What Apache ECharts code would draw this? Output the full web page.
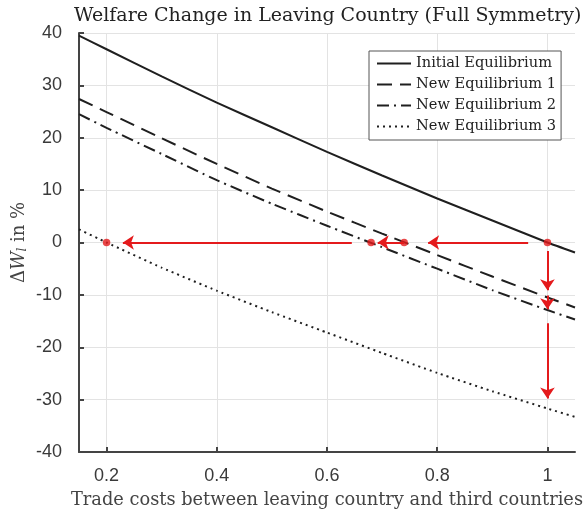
<!DOCTYPE html>
<html>
<head>
<meta charset="utf-8">
<script src="https://cdn.jsdelivr.net/npm/echarts@6/dist/echarts.min.js"></script>
<style>html,body{margin:0;padding:0;background:#fff}#c{width:585px;height:515px}</style>
</head>
<body>
<div id="c"></div>
<script>
const xValues = [0.15, 0.2, 0.3, 0.4, 0.5, 0.6, 0.7, 0.8, 0.9, 1.0, 1.05];
const initialEq = [39.5, 36.9, 31.7, 26.7, 22.0, 17.3, 12.8, 8.4, 4.2, 0.0, -1.9];
const newEq1 = [27.4, 24.9, 19.9, 15.0, 10.3, 5.9, 1.7, -2.4, -6.5, -10.5, -12.4];
const newEq2 = [24.5, 21.9, 16.9, 11.9, 7.4, 3.2, -0.9, -5.0, -9.1, -12.9, -14.7];
const newEq3 = [2.5, 0.0, -4.8, -9.2, -13.3, -17.2, -21.1, -24.9, -28.4, -31.7, -33.3];
const seriesNames = ['Initial Equilibrium', 'New Equilibrium 1', 'New Equilibrium 2', 'New Equilibrium 3'];
const xTicks = [0.2, 0.4, 0.6, 0.8, 1];
// red markers (x, y)
const pointX = [1.0, 0.74, 0.68, 0.2];
const pointY = [0, 0, 0, 0];
// red arrows: start x, start y, end x, end y
const arrowX0 = [0.965, 0.74, 0.645, 1.0, 1.0, 1.0];
const arrowY0 = [0, 0, 0, -1.6, -10.1, -15.4];
const arrowX1 = [0.7835, 0.692, 0.2296, 1.0, 1.0, 1.0];
const arrowY1 = [0, 0, 0, -9.1, -12.75, -29.8];

const serif = '"DejaVu Serif", serif';
const sans = '"Liberation Sans", Arial, sans-serif';
const dark = '#1f1f1f';
const red = '#e41a1c';

function pairs(ys) { return xValues.map((x, i) => [x, ys[i]]); }
const dashTypes = ['solid', [15, 8], [12, 5, 2, 5], [2, 4]];
const lineSeries = [initialEq, newEq1, newEq2, newEq3].map((ys, i) => ({
  name: seriesNames[i],
  type: 'line',
  data: pairs(ys),
  symbol: 'none',
  smooth: 0.15,
  lineStyle: { color: dark, width: 2, type: dashTypes[i] },
  itemStyle: { color: dark },
  z: 3
}));

const chart = echarts.init(document.getElementById('c'), null, { renderer: 'canvas' });
chart.setOption({
  animation: false,
  title: {
    text: 'Welfare Change in Leaving Country (Full Symmetry)',
    left: 69, top: 2,
    textStyle: { fontFamily: serif, fontWeight: 'normal', fontSize: 19, color: '#222' }
  },
  legend: {
    data: seriesNames,
    orient: 'vertical',
    left: 369, top: 51,
    itemWidth: 34, itemHeight: 14, itemGap: 6,
    padding: [5, 5, 6, 7],
    borderColor: '#555', borderWidth: 1, backgroundColor: '#fff',
    itemStyle: { opacity: 0 },
    textStyle: { fontFamily: serif, fontSize: 14.6, color: '#222' }
  },
  grid: { left: 79, right: 10, top: 33, bottom: 63, containLabel: false, outerBoundsMode: 'none' },
  xAxis: {
    type: 'value', min: 0.15, max: 1.05,
    name: 'Trade costs between leaving country and third countries',
    nameLocation: 'middle', nameGap: 39, nameMoveOverlap: false,
    nameTextStyle: { fontFamily: serif, fontSize: 17.8, color: '#444' },
    axisLine: { show: true, onZero: false, lineStyle: { color: '#444', width: 2 } },
    axisTick: { show: true, inside: true, length: 5, customValues: xTicks, lineStyle: { color: '#444', width: 2 } },
    axisLabel: { customValues: xTicks, margin: 15, fontFamily: sans, fontSize: 18, color: '#3a3a3a' },
    splitLine: { show: true, lineStyle: { color: '#e3e3e3', width: 1 } }
  },
  yAxis: {
    type: 'value', min: -40, max: 40, interval: 10,
    name: '{n|Δ}{i|W}{s|l}{n| in %}',
    nameLocation: 'middle', nameGap: 50, nameRotate: 90, nameMoveOverlap: false,
    nameTextStyle: {
      color: '#444',
      rich: {
        n: { fontFamily: serif, fontSize: 18, color: '#444' },
        i: { fontFamily: serif, fontSize: 18, fontStyle: 'italic', color: '#444' },
        s: { fontFamily: serif, fontSize: 12, fontStyle: 'italic', color: '#444', verticalAlign: 'bottom', padding: [7, 0, 0, 0] }
      }
    },
    axisLine: { show: true, onZero: false, lineStyle: { color: '#444', width: 2 } },
    axisTick: { show: true, inside: true, length: 5, lineStyle: { color: '#444', width: 2 } },
    axisLabel: { margin: 17, fontFamily: sans, fontSize: 18, color: '#3a3a3a' },
    splitLine: { show: true, lineStyle: { color: '#e3e3e3', width: 1 } }
  },
  series: [
    ...lineSeries,
    {
      name: 'arrows',
      type: 'lines',
      coordinateSystem: 'cartesian2d',
      data: arrowX0.map((x, i) => ({ coords: [[x, arrowY0[i]], [arrowX1[i], arrowY1[i]]] })),
      symbol: ['none', 'arrow'],
      symbolSize: [8, 11],
      lineStyle: { color: red, width: 2, opacity: 1, curveness: 0 },
      z: 4
    },
    {
      name: 'points',
      type: 'scatter',
      data: pointX.map((x, i) => [x, pointY[i]]),
      symbol: 'circle', symbolSize: 7.5,
      itemStyle: { color: red },
      z: 5
    }
  ]
});
</script>
</body>
</html>
